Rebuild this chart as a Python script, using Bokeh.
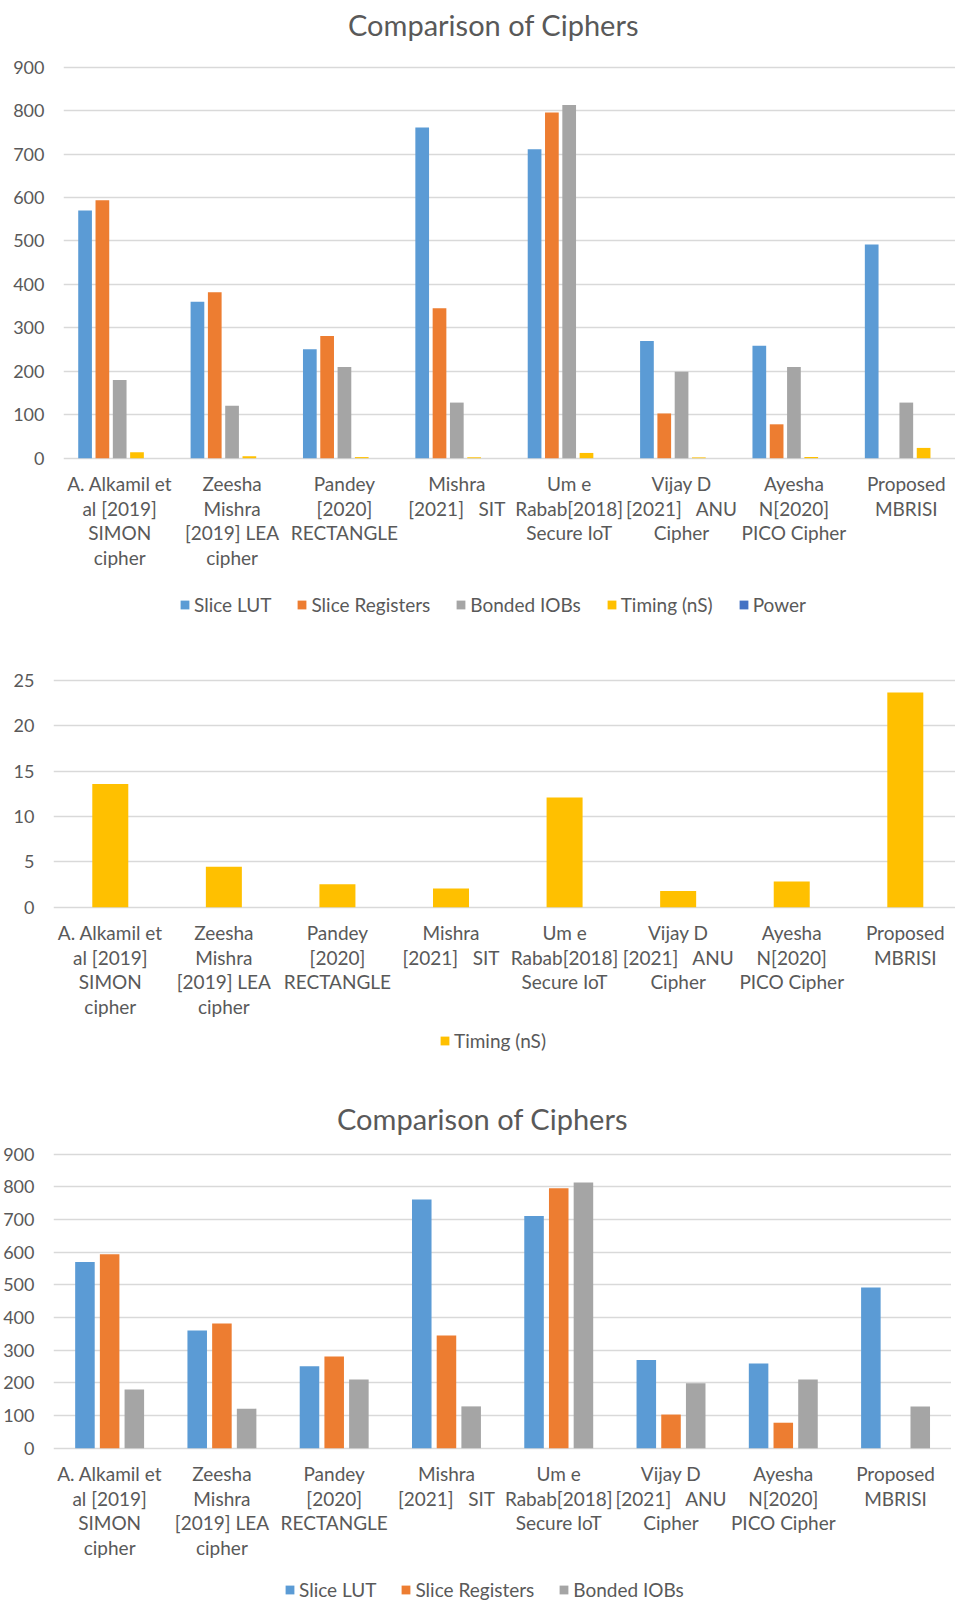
from bokeh.plotting import figure
from bokeh.models import Range1d, FixedTicker, Legend, LegendItem, Label
from bokeh.core.properties import value
from bokeh.layouts import column
from bokeh.embed import file_html
from bokeh.resources import INLINE

# Cipher implementations compared (line breaks follow the wrapped category labels)
ciphers = [
    "A. Alkamil et\nal [2019]\nSIMON\ncipher",
    "Zeesha\nMishra\n[2019] LEA\ncipher",
    "Pandey\n[2020]\nRECTANGLE",
    "Mishra\n[2021]\u00a0\u00a0\u00a0SIT",
    "Um e\nRabab[2018]\nSecure IoT",
    "Vijay D\n[2021]\u00a0\u00a0\u00a0ANU\nCipher",
    "Ayesha\nN[2020]\nPICO Cipher",
    "Proposed\nMBRISI",
]

# FPGA resource usage and timing per cipher
slice_lut = [570, 360, 251, 761, 711, 270, 259, 492]
slice_registers = [594, 382, 281, 345, 796, 103, 78, 0]
bonded_iobs = [180, 121, 210, 128, 813, 199, 210, 128]
timing_ns = [13.6, 4.45, 2.54, 2.06, 12.1, 1.8, 2.83, 23.68]
power = [0, 0, 0, 0, 0, 0, 0, 0]

series_names = ["Slice LUT", "Slice Registers", "Bonded IOBs", "Timing (nS)", "Power"]
series_values = [slice_lut, slice_registers, bonded_iobs, timing_ns, power]
series_colors = ["#5B9BD5", "#ED7D31", "#A5A5A5", "#FFC000", "#4472C4"]

resource_ticks = [0, 100, 200, 300, 400, 500, 600, 700, 800, 900]
timing_ticks = [0, 5, 10, 15, 20, 25]
chart_title = "Comparison of Ciphers"

TEXT = "#595959"
GRID = "#D9D9D9"
FONT = "Lato"
LEFT = 52

centers = [i + 0.5 for i in range(len(ciphers))]


def chart(width, height, margin_left, margin_right, cat_px, top_px, zero_px, yticks):
    """Figure whose frame fills the height; top_px / zero_px are the pixel rows
    of the highest tick and of the zero line."""
    frame_w = width - LEFT
    per_px = (yticks[-1] - yticks[0]) / (zero_px - top_px)
    y_hi = yticks[-1] + top_px * per_px
    y_lo = -(height - zero_px) * per_px
    p = figure(width=width, height=height, output_backend="svg", toolbar_location=None,
               x_range=Range1d(0, frame_w / cat_px), y_range=Range1d(y_lo, y_hi),
               x_axis_location=None,
               min_border_top=0, min_border_bottom=0,
               min_border_left=LEFT, min_border_right=0,
               margin=(0, margin_right, 0, margin_left),
               outline_line_color=None, background_fill_color="white",
               border_fill_color="white")
    p.xgrid.visible = False
    p.ygrid.ticker = FixedTicker(ticks=yticks)
    p.ygrid.grid_line_color = GRID
    p.ygrid.grid_line_width = 1.3

    yax = p.yaxis[0]
    yax.ticker = FixedTicker(ticks=yticks)
    yax.axis_line_color = None
    yax.major_tick_line_color = None
    yax.minor_tick_line_color = None
    yax.major_tick_out = 0
    yax.minor_tick_out = 0
    yax.major_label_standoff = 19
    yax.major_label_text_font = FONT
    yax.major_label_text_font_size = "18px"
    yax.major_label_text_color = TEXT

    # category labels hang below the zero line at each category centre
    p.text(x=centers, y=[0] * len(centers), text=ciphers, y_offset=14,
           text_align="center", text_baseline="top", text_line_height=1.07,
           text_font=value(FONT), text_font_size=value("19px"), text_color=TEXT)
    return p


def add_title(p, x, y):
    p.add_layout(Label(x=x, y=y, x_units="screen", y_units="screen", text=chart_title,
                       text_align="center", text_baseline="alphabetic",
                       text_font=FONT, text_font_size="29px", text_color=TEXT))


def add_legend(p, items, x, y, spacing):
    leg = Legend(items=items, orientation="horizontal", location=(x, y),
                 glyph_width=11, glyph_height=11, label_standoff=4, spacing=spacing,
                 padding=0, margin=0, border_line_color=None, background_fill_alpha=0,
                 label_text_font=FONT, label_text_font_size="19px",
                 label_text_color=TEXT)
    p.add_layout(leg, "center")


def grouped_bars(p, names, values, colors, slot, bar_w):
    n = len(names)
    items = []
    for k, (name, vals, col) in enumerate(zip(names, values, colors)):
        off = (k - (n - 1) / 2) * slot
        xs = [c + off for c in centers]
        r = p.vbar(x=xs, top=vals, bottom=0, width=bar_w, fill_color=col, line_color=None)
        items.append(LegendItem(label=name, renderers=[r]))
    return items


# Chart 1: all five series
p1 = chart(945, 640, 10, 0, 112.5, 66.7, 457.7, resource_ticks)
add_title(p1, 430, 616)
items1 = grouped_bars(p1, series_names, series_values, series_colors, 0.154, 0.122)
add_legend(p1, items1, 116, 24, 25)

# Chart 2: timing only
p2 = chart(955, 430, 0, 0, 113.7, 40, 266.7, timing_ticks)
items2 = grouped_bars(p2, series_names[3:4], series_values[3:4], series_colors[3:4], 0.0, 0.317)
add_legend(p2, items2, 386, 18, 25)

# Chart 3: resource usage only
p3 = chart(951, 534, 0, 4, 112.4, 83.7, 377.7, resource_ticks)
add_title(p3, 429, 486)
items3 = grouped_bars(p3, series_names[:3], series_values[:3], series_colors[:3], 0.22, 0.174)
add_legend(p3, items3, 231, 3, 24)

layout = column(p1, p2, p3, spacing=0)

with open("out.html", "w") as f:
    f.write(file_html(layout, INLINE))
